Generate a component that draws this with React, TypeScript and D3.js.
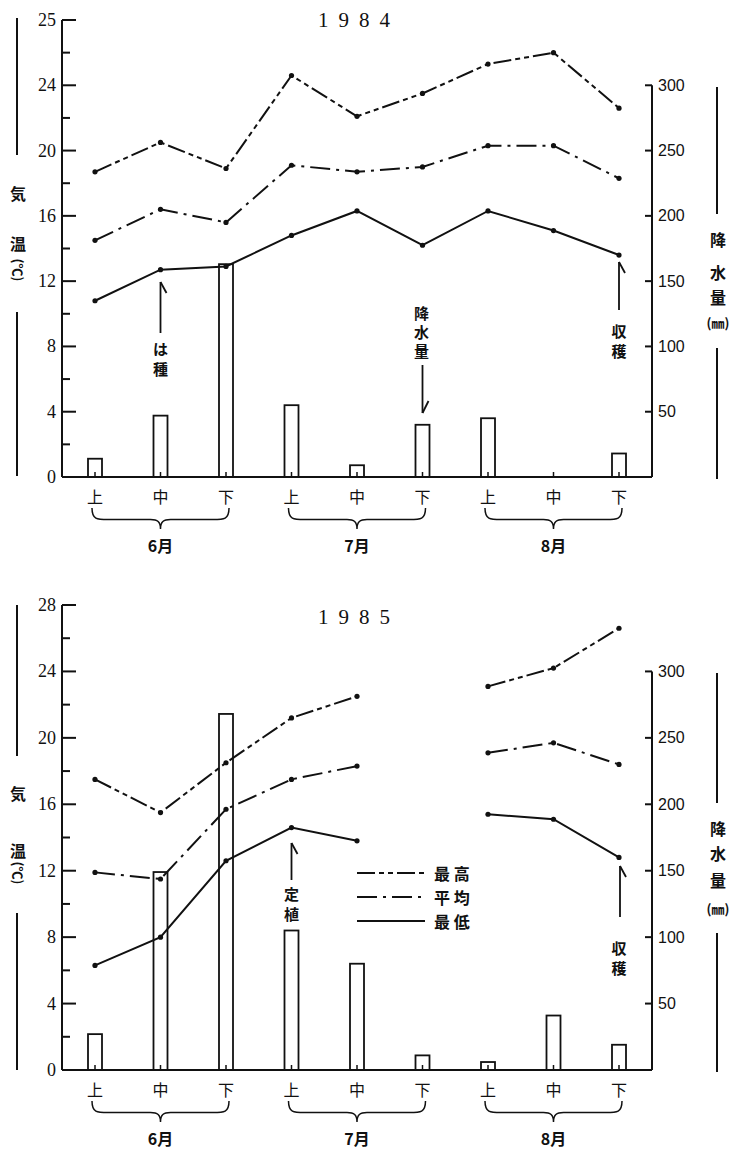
import React from "react";
import * as d3 from "d3";

// ---------- data ----------
const periods = ["上", "中", "下", "上", "中", "下", "上", "中", "下"];
const months = ["6月", "7月", "8月"];
const tempTicks = [0, 4, 8, 12, 16, 20, 24, 28];
const tempMinorTicks = [2, 6, 10, 14, 18, 22, 26];
const tempTickLabels1984 = ["0", "4", "8", "12", "16", "20", "24", "25"];
const tempTickLabels1985 = ["0", "4", "8", "12", "16", "20", "24", "28"];
const rainTicks = [50, 100, 150, 200, 250, 300];

const max1984 = [18.7, 20.5, 18.9, 24.6, 22.1, 23.5, 25.3, 26.0, 22.6];
const mean1984 = [14.5, 16.4, 15.6, 19.1, 18.7, 19.0, 20.3, 20.3, 18.3];
const min1984 = [10.8, 12.7, 12.9, 14.8, 16.3, 14.2, 16.3, 15.1, 13.6];
const rain1984 = [14, 47, 163, 55, 9, 40, 45, 0, 18];

const max1985 = [17.5, 15.5, 18.5, 21.2, 22.5, null, 23.1, 24.2, 26.6];
const mean1985 = [11.9, 11.5, 15.7, 17.5, 18.3, null, 19.1, 19.7, 18.4];
const min1985 = [6.3, 8.0, 12.6, 14.6, 13.8, null, 15.4, 15.1, 12.8];
const rain1985 = [27, 149, 268, 105, 80, 11, 6, 41, 19];

const legendLabels = ["最 高", "平 均", "最 低"];

// ---------- styles ----------
const SERIF = "'Liberation Serif', 'DejaVu Serif', serif";
const SANS = "'Liberation Sans Narrow', 'Liberation Sans', Arial, sans-serif";
const CJK = "'Noto Sans CJK JP', 'Noto Sans CJK SC', sans-serif";
const DASH_MAX = "18,4,5,4,5,4";
const DASH_MEAN = "20,6,3,6";
const INK = "#111";

const xScale = d3.scalePoint<number>().domain(d3.range(9)).range([95, 619]);
const AX_L = 62;
const AX_R = 652;

function Arrow({ x, y1, y2, up }: { x: number; y1: number; y2: number; up: boolean }) {
  return (
    <g stroke={INK} strokeWidth={1.8} fill="none">
      <line x1={x} x2={x} y1={y1} y2={y2} />
      {up ? (
        <line x1={x} y1={y1} x2={x + 6} y2={y1 + 11} />
      ) : (
        <line x1={x + 6} y1={y2 - 12} x2={x} y2={y2} />
      )}
    </g>
  );
}

function VText({ x, chars, ys, size = 15 }: { x: number; chars: string[]; ys: number[]; size?: number }) {
  return (
    <g fontFamily={CJK} fontWeight={700} fontSize={size} fill={INK} textAnchor="middle">
      {chars.map((c, i) => (
        <text key={i} x={x} y={ys[i]} dominantBaseline="central">
          {c}
        </text>
      ))}
    </g>
  );
}

function Brace({ x1, x2, y, h }: { x1: number; x2: number; y: number; h: number }) {
  const xm = (x1 + x2) / 2;
  const m = y + h * 0.55;
  const d = `M${x1},${y} C${x1},${m} ${x1 + 5},${m} ${x1 + 16},${m} L${xm - 10},${m} C${xm - 3},${m} ${xm},${m + 2} ${xm},${y + h} C${xm},${m + 2} ${xm + 3},${m} ${xm + 10},${m} L${x2 - 16},${m} C${x2 - 5},${m} ${x2},${m} ${x2},${y}`;
  return <path d={d} fill="none" stroke={INK} strokeWidth={1.5} />;
}

type PanelProps = {
  year: string;
  y0: number;
  yTop: number;
  titleY: number;
  tickLabels: string[];
  maxV: (number | null)[];
  meanV: (number | null)[];
  minV: (number | null)[];
  rain: number[];
  leftLab: { line1: [number, number]; ys: number[]; line2: [number, number] };
  rightLab: { line1: [number, number]; ys: number[]; line2: [number, number] };
  children?: React.ReactNode;
};

function Panel(p: PanelProps) {
  const yT = d3.scaleLinear().domain([0, 28]).range([p.y0, p.yTop]);
  const yR = d3.scaleLinear().domain([0, 350]).range([p.y0, p.yTop]);
  const line = d3
    .line<number | null>()
    .defined((d) => d != null)
    .x((_, i) => xScale(i) as number)
    .y((d) => yT(d as number));
  const series = [
    { v: p.maxV, dash: DASH_MAX },
    { v: p.meanV, dash: DASH_MEAN },
    { v: p.minV, dash: undefined },
  ];
  const labY = p.y0 + 19;
  return (
    <g>
      {/* title */}
      <text x={359} y={p.titleY} fontFamily={SERIF} fontSize={21} letterSpacing={10} textAnchor="middle" dominantBaseline="central" fill={INK}>
        {p.year}
      </text>

      {/* bars */}
      {p.rain.map((v, i) =>
        v > 0 ? (
          <rect key={i} x={(xScale(i) as number) - 7} y={yR(v)} width={14} height={p.y0 - yR(v)} fill="#fff" stroke={INK} strokeWidth={1.8} />
        ) : null
      )}

      {/* baseline + category ticks */}
      <line x1={AX_L} x2={AX_R} y1={p.y0} y2={p.y0} stroke={INK} strokeWidth={2} />
      {periods.map((_, i) => (
        <line key={i} x1={xScale(i)} x2={xScale(i)} y1={p.y0} y2={p.y0 - 5} stroke={INK} strokeWidth={1.5} />
      ))}

      {/* left axis */}
      <line x1={AX_L} x2={AX_L} y1={p.y0} y2={yT(28)} stroke={INK} strokeWidth={2} />
      {tempTicks.map((t, i) => (
        <g key={t}>
          <line x1={AX_L} x2={AX_L + 14} y1={yT(t)} y2={yT(t)} stroke={INK} strokeWidth={2} />
          <text x={56} y={yT(t)} textAnchor="end" dominantBaseline="central" fontFamily={SERIF} fontSize={18} fill={INK}>
            {p.tickLabels[i]}
          </text>
        </g>
      ))}
      {tempMinorTicks.map((t) => (
        <line key={t} x1={AX_L} x2={AX_L + 8} y1={yT(t)} y2={yT(t)} stroke={INK} strokeWidth={2} />
      ))}

      {/* right axis */}
      <line x1={AX_R} x2={AX_R} y1={p.y0} y2={yR(300)} stroke={INK} strokeWidth={2} />
      {rainTicks.map((t) => (
        <g key={t}>
          <line x1={AX_R - 7} x2={AX_R} y1={yR(t)} y2={yR(t)} stroke={INK} strokeWidth={2} />
          <text x={658} y={yR(t)} dominantBaseline="central" fontFamily={SANS} fontSize={16} fill={INK}>
            {t}
          </text>
        </g>
      ))}

      {/* lines */}
      {series.map((s, k) => (
        <g key={k}>
          <path d={line(s.v) || ""} fill="none" stroke={INK} strokeWidth={2} strokeDasharray={s.dash} />
          {s.v.map((d, i) =>
            d != null ? <circle key={i} cx={xScale(i)} cy={yT(d)} r={2.6} fill={INK} /> : null
          )}
        </g>
      ))}

      {/* x labels */}
      {periods.map((c, i) => (
        <text key={i} x={xScale(i)} y={p.y0 + 19} textAnchor="middle" dominantBaseline="central" fontFamily={CJK} fontSize={16} fill={INK}>
          {c}
        </text>
      ))}
      {months.map((m, k) => {
        const a = xScale(k * 3) as number;
        const b = xScale(k * 3 + 2) as number;
        return (
          <g key={m}>
            <Brace x1={a - 3} x2={b + 3} y={labY + 12} h={21} />
            <text x={(a + b) / 2} y={labY + 49} textAnchor="middle" dominantBaseline="central" fontFamily={CJK} fontWeight={700} fontSize={16} fill={INK}>
              {m}
            </text>
          </g>
        );
      })}

      {/* axis titles */}
      <g stroke={INK} strokeWidth={2}>
        <line x1={17} x2={17} y1={p.leftLab.line1[0]} y2={p.leftLab.line1[1]} />
        <line x1={17} x2={17} y1={p.leftLab.line2[0]} y2={p.leftLab.line2[1]} />
        <line x1={717} x2={717} y1={p.rightLab.line1[0]} y2={p.rightLab.line1[1]} />
        <line x1={717} x2={717} y1={p.rightLab.line2[0]} y2={p.rightLab.line2[1]} />
      </g>
      <VText x={18} chars={["気", "温"]} ys={p.leftLab.ys.slice(0, 2)} size={16} />
      <text
        x={18}
        y={p.leftLab.ys[2]}
        transform={`rotate(90 18 ${p.leftLab.ys[2]})`}
        textAnchor="middle"
        dominantBaseline="central"
        fontFamily={CJK}
        fontWeight={700}
        fontSize={13}
        fill={INK}
      >
        (℃)
      </text>
      <VText x={718} chars={["降", "水", "量"]} ys={p.rightLab.ys.slice(0, 3)} size={16} />
      <text x={718} y={p.rightLab.ys[3]} textAnchor="middle" dominantBaseline="central" fontFamily={CJK} fontWeight={700} fontSize={13} fill={INK}>
        (㎜)
      </text>

      {p.children}
    </g>
  );
}

export default function App() {
  const xi = (i: number) => xScale(i) as number;
  return (
    <svg width={730} height={1154} style={{ position: "absolute", left: 0, top: 0, background: "#fff" }}>
      <rect width={730} height={1154} fill="#fff" />
      <Panel
        year="1984"
        y0={477}
        yTop={20}
        titleY={20}
        tickLabels={tempTickLabels1984}
        maxV={max1984}
        meanV={mean1984}
        minV={min1984}
        rain={rain1984}
        leftLab={{ line1: [18, 155], ys: [193, 243, 270], line2: [312, 476] }}
        rightLab={{ line1: [87, 214], ys: [239, 272, 297, 322], line2: [348, 479] }}
      >
        <Arrow x={xi(1)} y1={282} y2={333} up={true} />
        <VText x={xi(1)} chars={["は", "種"]} ys={[348, 368]} />
        <VText x={xi(5) - 1} chars={["降", "水", "量"]} ys={[312, 331, 350]} />
        <Arrow x={xi(5)} y1={365} y2={413} up={false} />
        <Arrow x={xi(8)} y1={262} y2={310} up={true} />
        <VText x={xi(8)} chars={["収", "穫"]} ys={[330, 350]} />
      </Panel>

      <Panel
        year="1985"
        y0={1070}
        yTop={605}
        titleY={617}
        tickLabels={tempTickLabels1985}
        maxV={max1985}
        meanV={mean1985}
        minV={min1985}
        rain={rain1985}
        leftLab={{ line1: [605, 756], ys: [793, 850, 873], line2: [913, 1070] }}
        rightLab={{ line1: [673, 803], ys: [828, 853, 880, 908], line2: [933, 1072] }}
      >
        <Arrow x={xi(3)} y1={843} y2={880} up={true} />
        <VText x={xi(3)} chars={["定", "植"]} ys={[893, 913]} />
        <Arrow x={xi(8) + 1} y1={866} y2={917} up={true} />
        <VText x={xi(8)} chars={["収", "穫"]} ys={[947, 967]} />
        {/* legend */}
        {[DASH_MAX, DASH_MEAN, undefined].map((dash, k) => (
          <g key={k}>
            <line x1={357} x2={425} y1={873 + k * 24} y2={873 + k * 24} stroke={INK} strokeWidth={2} strokeDasharray={dash} />
            <text x={434} y={873 + k * 24} dominantBaseline="central" fontFamily={CJK} fontWeight={700} fontSize={16} fill={INK}>
              {legendLabels[k]}
            </text>
          </g>
        ))}
      </Panel>
    </svg>
  );
}
